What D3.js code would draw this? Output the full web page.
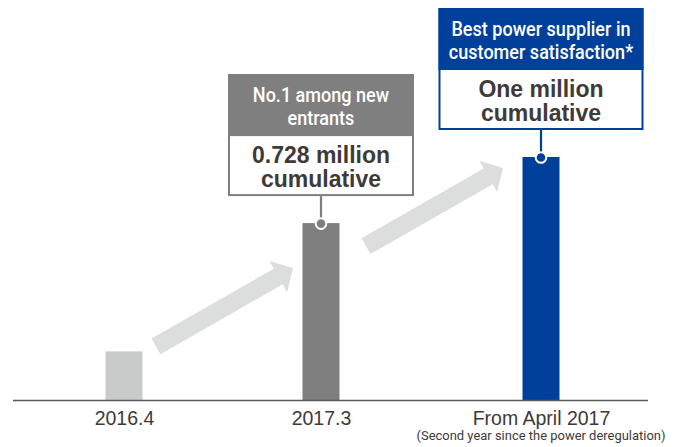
<!DOCTYPE html>
<html><head><meta charset="utf-8">
<script src="https://cdn.jsdelivr.net/npm/d3@7"></script>
<style>
html,body{margin:0;padding:0;background:#fff;}
svg{display:block;}
</style></head>
<body>
<svg id="c" width="681" height="447"></svg>
<script>
// ---- data ----
const categories = ["2016.4", "2017.3", "From April 2017"];
const values = [0.2, 0.728, 1.0]; // million cumulative customers
const subLabels = ["", "", "(Second year since the power deregulation)"];
const headerLines = [null, ["No.1 among new", "entrants"], ["Best power supplier in", "customer satisfaction*"]];
const bodyLines = [null, ["0.728 million", "cumulative"], ["One million", "cumulative"]];

// ---- style / layout ----
const barColors = ["#c9caca", "#7f7f7f", "#00409a"];
const arrowColor = "#dcdddd";
const textColor = "#3e3a39";
const axisColor = "#595757";
const boxWidths = [0, 186, 205];
const barW = 37;
const FONT = "'Liberation Sans', Arial, Helvetica, sans-serif";
const HFONT = "Roboto, 'Liberation Sans', Arial, sans-serif";

const svg = d3.select("#c");
const x = d3.scaleLinear().domain([0, 1, 2]).range([124, 321, 541]);
const y = d3.scaleLinear().domain([0, 1]).range([400, 157]);

// arrows (decorative)
function arrowPath(x0, y0, x1, y1, sw, hw, hl) {
  const dx = x1 - x0, dy = y1 - y0, L = Math.hypot(dx, dy);
  const ux = dx / L, uy = dy / L, px = -uy, py = ux;
  const bx = x1 - ux * hl, by = y1 - uy * hl;
  const pts = [
    [x0 + px * sw / 2, y0 + py * sw / 2],
    [bx + px * sw / 2, by + py * sw / 2],
    [bx + px * hw / 2, by + py * hw / 2],
    [x1, y1],
    [bx - px * hw / 2, by - py * hw / 2],
    [bx - px * sw / 2, by - py * sw / 2],
    [x0 - px * sw / 2, y0 - py * sw / 2]
  ];
  return "M" + pts.map(p => p.join(",")).join("L") + "Z";
}
const arrows = [
  [x(0) + 32, y(values[0]) - 5, x(1) - 28, y(values[1]) + 45],
  [x(1) + 45, y(values[1]) + 23, x(2) - 38, y(values[2]) + 11]
];
svg.selectAll("path.arrow").data(arrows).join("path")
  .attr("class", "arrow")
  .attr("d", a => arrowPath(a[0], a[1], a[2], a[3], 18, 36, 17))
  .attr("fill", arrowColor);

// bars
svg.selectAll("rect.bar").data(values).join("rect")
  .attr("class", "bar")
  .attr("x", (d, i) => x(i) - barW / 2)
  .attr("y", d => y(d))
  .attr("width", barW)
  .attr("height", d => y(0) - y(d))
  .attr("fill", (d, i) => barColors[i]);

// baseline
svg.append("line")
  .attr("x1", 13).attr("x2", 648)
  .attr("y1", y(0) + 0.5).attr("y2", y(0) + 0.5)
  .attr("stroke", axisColor).attr("stroke-width", 1.5);

// axis labels
const axis = d3.axisBottom(x).tickValues([0, 1, 2]).tickFormat(i => categories[i]).tickSize(0).tickPadding(0);
const gAx = svg.append("g").attr("transform", `translate(0,${y(0)})`).call(axis);
gAx.select(".domain").remove();
gAx.selectAll(".tick text")
  .attr("dy", null).attr("y", 25)
  .attr("font-family", FONT).attr("font-size", 19.5)
  .attr("fill", textColor);

svg.selectAll("text.sub").data(subLabels).join("text")
  .attr("class", "sub")
  .attr("x", (d, i) => x(i))
  .attr("y", y(0) + 40)
  .attr("text-anchor", "middle")
  .attr("font-family", HFONT).attr("font-size", 13.5)
  .attr("fill", textColor)
  .text(d => d)
  .each(function (d) {
    if (!d) return;
    d3.select(this).attr("textLength", 249).attr("lengthAdjust", "spacingAndGlyphs");
  });

// callout boxes
const boxH = 122, headH = 62;
values.forEach((v, i) => {
  if (!headerLines[i]) return;
  const cx = x(i), bw = boxWidths[i];
  const bottom = y(v) - 27, top = bottom - boxH;
  const g = svg.append("g");
  // stem
  g.append("line").attr("x1", cx).attr("x2", cx).attr("y1", bottom).attr("y2", y(v))
    .attr("stroke", barColors[i]).attr("stroke-width", 2.2);
  g.append("circle").attr("cx", cx).attr("cy", y(v) + 0.5).attr("r", 5.3)
    .attr("fill", barColors[i]).attr("stroke", "#fff").attr("stroke-width", 2);
  // box
  g.append("rect").attr("x", cx - bw / 2 + 1).attr("y", top + 1).attr("width", bw - 2).attr("height", boxH - 2)
    .attr("fill", "#fff").attr("stroke", barColors[i]).attr("stroke-width", 2);
  g.append("rect").attr("x", cx - bw / 2).attr("y", top).attr("width", bw).attr("height", headH)
    .attr("fill", barColors[i]);
  headerLines[i].forEach((t, k) => {
    g.append("text").attr("x", cx).attr("y", top + 28 + k * 23)
      .attr("text-anchor", "middle").attr("font-family", HFONT).attr("font-size", 20.5)
      .attr("font-weight", 500)
      .attr("fill", "#fff").text(t)
      .each(function () {
        const w = this.getComputedTextLength();
        d3.select(this).attr("textLength", w * 0.88).attr("lengthAdjust", "spacingAndGlyphs");
      });
  });
  bodyLines[i].forEach((t, k) => {
    g.append("text").attr("x", cx).attr("y", top + 88.5 + k * 24.5)
      .attr("text-anchor", "middle").attr("font-family", FONT).attr("font-size", 23)
      .attr("font-weight", "bold").attr("fill", textColor).text(t);
  });
});
</script>
</body></html>
